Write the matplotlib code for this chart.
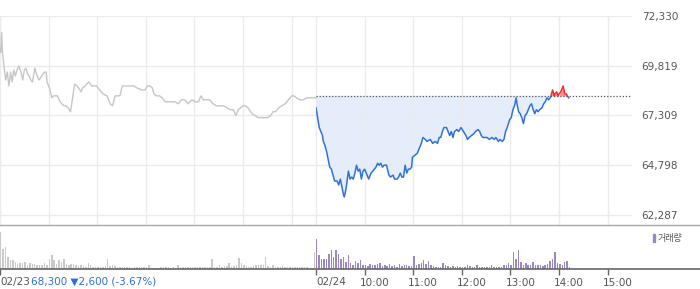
import matplotlib
matplotlib.use('Agg')
import matplotlib.pyplot as plt
import numpy as np
from matplotlib.patches import Rectangle

plt.rcParams['font.family'] = ['DejaVu Sans', 'Noto Sans CJK KR']

W, H = 700, 289

# minutes after 09:00 of each session, and prices
day1_t = [0, 1, 2, 3, 5, 7, 9, 11, 13, 15,
          17, 19, 21, 23, 26, 28, 30, 32, 34, 36,
          38, 40, 43, 45, 48, 50, 53, 55, 57, 58,
          61, 64, 66, 68, 71, 73, 76, 79, 81, 84,
          87, 90, 92, 95, 97, 100, 102, 105, 107, 110,
          113, 116, 119, 123, 127, 132, 136, 139, 142, 145,
          148, 151, 154, 157, 160, 165, 169, 175, 179, 182,
          185, 188, 190, 193, 197, 200, 204, 208, 212, 216,
          220, 224, 228, 232, 237, 241, 245, 248, 251, 255,
          259, 263, 267, 272, 276, 280, 284, 288, 291, 294,
          297, 300, 303, 306, 311, 315, 319, 322, 326, 330,
          334, 337, 340, 344, 348, 352, 356, 360, 363, 366,
          370, 374, 379, 383, 388, 390]
day1_p = [70700, 70500, 71500, 70500, 69800, 69100, 69500, 68800, 69500, 69000,
          69600, 69300, 69600, 69800, 69500, 69100, 69600, 69700, 69400, 69300,
          69100, 69000, 69700, 69400, 69100, 69200, 69400, 69500, 69500, 69000,
          68700, 68200, 68300, 68300, 68300, 68100, 67900, 67800, 67800, 67700,
          67500, 68300, 68900, 68800, 68700, 68500, 68700, 68800, 68900, 69000,
          68800, 68800, 68800, 68600, 68400, 68300, 67900, 67800, 68300, 68300,
          68300, 68800, 68800, 68800, 68800, 68800, 68700, 68600, 68600, 68800,
          68800, 68700, 68400, 68300, 68300, 68200, 68000, 68000, 68000, 68000,
          67900, 68100, 68100, 67900, 68100, 68000, 68000, 68300, 68100, 68100,
          68100, 67900, 67800, 67800, 67800, 67700, 67600, 67600, 67300, 67600,
          67700, 67800, 67800, 67700, 67400, 67300, 67200, 67200, 67200, 67200,
          67300, 67500, 67500, 67700, 67800, 67900, 68100, 68300, 68300, 68200,
          68100, 68100, 68200, 68200, 68200, 68200]

day2_t = [0, 2, 4, 6, 8, 9, 11, 13, 15, 17,
          19, 21, 23, 26, 28, 30, 32, 34, 35, 37,
          39, 40, 42, 44, 46, 48, 50, 52, 54, 56,
          58, 60, 63, 65, 68, 70, 72, 74, 76, 78,
          80, 82, 84, 87, 90, 92, 95, 97, 100, 102,
          104, 106, 108, 110, 112, 114, 116, 118, 119, 122,
          125, 128, 130, 132, 135, 137, 141, 144, 147, 150,
          152, 154, 156, 158, 161, 165, 167, 169, 171, 174,
          176, 179, 182, 185, 187, 189, 192, 195, 197, 200,
          202, 204, 206, 209, 211, 214, 217, 220, 222, 225,
          227, 230, 232, 234, 236, 239, 241, 243, 245, 247,
          248, 250, 252, 254, 256, 258, 260, 262, 264, 266,
          268, 270, 272, 274, 276, 279, 281, 283, 285, 287,
          289, 290, 292, 294, 295, 297, 299, 300, 302, 304,
          305, 307, 309, 310, 312]
day2_p = [67700, 67200, 66700, 66500, 66300, 66000, 65800, 65500, 65100, 64700,
          64600, 64300, 64000, 64000, 63800, 64100, 63700, 63300, 63200, 63600,
          64200, 64500, 64100, 64200, 64100, 64400, 64800, 64500, 64600, 64100,
          64500, 64600, 64300, 64100, 64400, 64500, 64600, 64700, 64900, 64800,
          64900, 64700, 64800, 64800, 64300, 64200, 64300, 64100, 64100, 64200,
          64400, 64200, 64200, 64800, 64400, 64600, 64600, 64700, 65200, 65300,
          65400, 65700, 65900, 66200, 66100, 66000, 66100, 65900, 66000, 65900,
          66200, 66200, 66500, 66700, 66700, 66300, 66500, 66200, 66500, 66600,
          66500, 66700, 66500, 66300, 66100, 66200, 66300, 66400, 66500, 66600,
          66500, 66300, 66200, 66200, 66200, 66100, 66200, 66100, 66200, 66000,
          66100, 66000, 66100, 66500, 66700, 67100, 67200, 67600, 67800, 68200,
          67900, 67500, 67400, 67200, 66900, 67300, 67400, 67600, 67800, 67900,
          67600, 67400, 67600, 67500, 67600, 67700, 67900, 68000, 68200, 68100,
          68200, 68300, 68600, 68300, 68400, 68500, 68300, 68400, 68500, 68700,
          68800, 68400, 68400, 68300, 68200]

# volume per 3-minute bucket (thousand shares)
day1_vol = [109, 60, 65, 35, 27, 27, 20, 14, 17, 16,
            19, 10, 17, 14, 15, 12, 10, 12, 17, 12,
            30, 42, 25, 15, 26, 20, 30, 14, 12, 15,
            14, 12, 8, 10, 8, 6, 18, 10, 5, 5,
            5, 4, 4, 8, 30, 8, 10, 8, 6, 5,
            6, 4, 5, 4, 3, 4, 4, 4, 5, 4,
            5, 10, 3, 3, 3, 3, 5, 5, 4, 5,
            3, 4, 3, 10, 4, 4, 6, 5, 6, 6,
            5, 6, 5, 5, 4, 4, 4, 28, 6, 6,
            10, 6, 8, 8, 16, 6, 8, 10, 32, 18,
            10, 8, 6, 4, 8, 12, 10, 10, 12, 34,
            8, 6, 10, 6, 6, 6, 8, 5, 6, 6,
            6, 5, 5, 5, 5, 5, 5, 3, 3, 50]
day2_vol = [89, 40, 30, 28, 30, 45, 57, 35, 55, 45,
            30, 35, 20, 42, 18, 10, 22, 18, 27, 10,
            10, 8, 14, 10, 12, 14, 18, 8, 10, 8,
            14, 8, 10, 6, 14, 8, 10, 12, 8, 8,
            38, 12, 14, 18, 25, 14, 22, 10, 8, 6,
            6, 6, 18, 10, 8, 6, 8, 5, 8, 5,
            4, 4, 10, 8, 6, 5, 12, 5, 6, 5,
            5, 6, 10, 6, 5, 5, 6, 10, 10, 18,
            12, 50, 30, 55, 20, 12, 18, 12, 12, 20,
            10, 12, 10, 8, 10, 15, 22, 30, 50, 18,
            15, 12, 20, 22, 6]

ref_price = 68300
y_ticks = [62287, 64798, 67309, 69819, 72330]
date_labels = ['02/23', '02/24']
hour_labels = ['10:00', '11:00', '12:00', '13:00', '14:00', '15:00']
price_text = '68,300 \u25bc2,600 (-3.67%)'

SESSION = 390
X_END = 2 * SESSION
BLUE = '#2f72d9'
RED = '#f23030'
PURPLE = '#9b86c8'


def fpx(x, y):
    return x / W, 1 - y / H


fig = plt.figure(figsize=(W / 100, H / 100), dpi=100)
ax = fig.add_axes([0, 1 - 225 / H, 632 / W, (225 - 16) / H])
axv = fig.add_axes([0, 1 - 268.5 / H, 1, (268.5 - 225) / H])

# ---- price panel
ppx = (y_ticks[-1] - y_ticks[0]) / 199.0
ax.set_ylim(y_ticks[-1] - 209 * ppx, y_ticks[-1])
ax.set_xlim(0, X_END)
hour_grid = list(range(0, SESSION, 60)) + [SESSION + m for m in range(0, SESSION, 60)]
ax.set_xticks(hour_grid)
ax.set_yticks(y_ticks)
ax.set_yticklabels(['{:,}'.format(v) for v in y_ticks])
ax.yaxis.tick_right()
ax.tick_params(axis='y', length=0, pad=7, labelsize=7.5, labelcolor='#555555')
ax.tick_params(axis='x', length=0, labelbottom=False)
ax.grid(color='#ebebeb', lw=1)
ax.set_axisbelow('line')
for s in ax.spines.values():
    s.set_visible(False)

ax.plot(day1_t, day1_p, color='#c6c6ca', lw=1)

x2 = SESSION + np.array(day2_t)
p2 = np.array(day2_p)
ax.fill_between(x2, p2, ref_price, where=p2 <= ref_price, interpolate=True,
                color='#e4edf9', lw=0)
ax.fill_between(x2, p2, ref_price, where=p2 >= ref_price, interpolate=True,
                color='#ff8f8f', lw=0)
y0 = ax.get_ylim()[0]
below, = ax.plot(x2, p2, color=BLUE, lw=1.1)
below.set_clip_path(Rectangle((SESSION, y0), SESSION, ref_price - y0,
                              transform=ax.transData))
above, = ax.plot(x2, p2, color=RED, lw=1.1)
above.set_clip_path(Rectangle((SESSION, ref_price), SESSION, 20000,
                              transform=ax.transData))
ax.hlines(ref_price, SESSION, X_END, colors='#555555',
          linestyles=(0, (1, 1.5)), lw=0.9, zorder=3)

# ---- volume panel
axv.set_xlim(0, X_END * W / 632)
axv.set_ylim(0, 130.5)
axv.bar(np.arange(len(day1_vol)) * 3, day1_vol, width=1.8, align='edge',
        color='#c9c9cc', lw=0)
axv.bar(SESSION + np.arange(len(day2_vol)) * 3, day2_vol, width=1.8,
        align='edge', color=PURPLE, lw=0)
axv.spines['left'].set_visible(False)
axv.spines['right'].set_visible(False)
axv.spines['top'].set_color('#a8a8a8')
axv.spines['top'].set_linewidth(1)
axv.spines['bottom'].set_color('#666666')
axv.spines['bottom'].set_linewidth(1.2)
axv.set_yticks([])
axv.set_xticks([0, SESSION] + [SESSION + 60 * (i + 1) for i in range(len(hour_labels))])
axv.tick_params(axis='x', direction='out', length=4, width=1, color='#666666',
                labelbottom=False)

txt = dict(fontsize=7.5, color='#555555', va='center')
axv.annotate(date_labels[0], xy=(0, 0), xytext=(0, -14), textcoords='offset pixels',
             ha='left', **txt)
fig.text(*fpx(31, 282), price_text, fontsize=7.5, color='#2f6fd6', va='center', ha='left')
axv.annotate(date_labels[1], xy=(SESSION, 0), xytext=(0, -14),
             textcoords='offset pixels', ha='left', **txt)
for i, lab in enumerate(hour_labels):
    axv.annotate(lab, xy=(SESSION + 60 * (i + 1), 0), xytext=(-5, -14),
                 textcoords='offset pixels', ha='left', **txt)

# legend
fig.patches.append(Rectangle(fpx(652.5, 242), 2.5 / W, 8 / H, color=PURPLE,
                             transform=fig.transFigure))
fig.text(*fpx(658, 238), '거래량', fontsize=6.5, color='#555555', va='center',
         ha='left', family=['Noto Sans CJK KR', 'DejaVu Sans'])

fig.savefig('out.png', dpi=100)
